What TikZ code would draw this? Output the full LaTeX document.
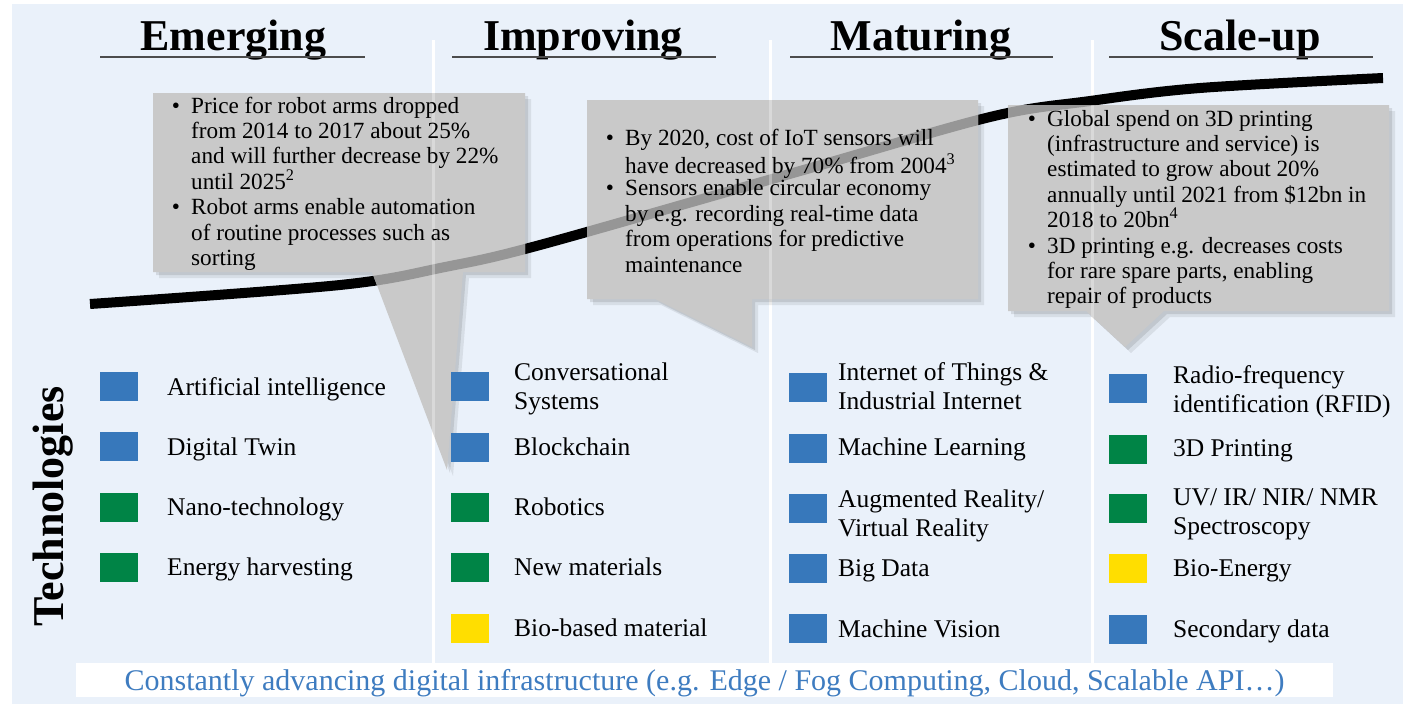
\documentclass[tikz,border=0pt]{standalone}
\usepackage{fontspec}
\setmainfont{Liberation Serif}
\definecolor{bgblue}{RGB}{234,241,250}
\definecolor{tblue}{RGB}{55,120,187}
\definecolor{tgreen}{RGB}{0,132,70}
\definecolor{tyellow}{RGB}{255,222,0}
\definecolor{boxgray}{RGB}{201,201,201}
\definecolor{curvegray}{RGB}{150,150,150}
\definecolor{linkblue}{RGB}{62,124,192}
\begin{document}
\begin{tikzpicture}[x=1pt,y=-1pt,
  title/.style={font=\fontsize{44}{50}\selectfont\bfseries, anchor=base, inner sep=0},
  uline/.style={line width=2pt, draw=black!70},
  divider/.style={draw=white, line width=3pt},
  sq/.style={minimum width=38pt, minimum height=29pt, inner sep=0, anchor=north west},
  item/.style={font=\fontsize{25.5}{29}\selectfont, anchor=north west, inner sep=0, align=left},
  ctext/.style={font=\fontsize{23.2}{25.4}\selectfont, anchor=north west, inner sep=0, align=left},
  bul/.style={font=\fontsize{23.2}{25.4}\selectfont, anchor=base, inner sep=0},
  curve/.style={line width=10pt},
  boxshape/.style={fill=boxgray}
]
\def\calloutA{(153,93) -- (525,93) -- (525,272) -- (463,272) -- (447,470) -- (372,272) -- (153,272) -- cycle}
\def\calloutB{(587,100) -- (978,100) -- (978,299) -- (752,299) -- (752,347) -- (655,299) -- (587,299) -- cycle}
\def\calloutC{(1008,105) -- (1389,105) -- (1389,311) -- (1164,311) -- (1125,347) -- (1086,311) -- (1008,311) -- cycle}
\def\curvepath{plot[smooth,tension=0.55] coordinates {(90,304) (340,285) (445,267) (540,245) (800,171) (990,117) (1090,101) (1200,88) (1383,78)}}
\def\dividers{(433,40) -- (433,663) (770,40) -- (770,663) (1092,40) -- (1092,663)}

% background
\fill[white] (0,0) rectangle (1403,704);
\useasboundingbox (0,0) rectangle (1403,704);
\fill[bgblue] (12,4) rectangle (1403,704);

% dividers and curve
\draw[divider] \dividers;
\draw[curve] \curvepath;

% callouts: shadows and boxes
\foreach \c in {\calloutA,\calloutB,\calloutC}{
  \fill[black,opacity=0.08,xshift=6pt,yshift=-6pt] \c;
  \fill[black,opacity=0.10,xshift=3pt,yshift=-3pt] \c;
  \fill[boxshape] \c;
  \begin{scope}
    \clip \c;
    \draw[curve,draw=curvegray] \curvepath;
    \draw[divider,draw=white,opacity=0.3] \dividers;
  \end{scope}
}

% callout texts
\node[bul] (b1a) at (176,113) {•};
\node[ctext] (c1a) at (191,95.2) {\strut Price for robot arms dropped\\from 2014 to 2017 about 25\%\\and will further decrease by 22\%\\until 2025\textsuperscript{2}};
\node[bul] (b1b) at (176,214.6) {•};
\node[ctext] (c1b) at (191,196.8) {\strut Robot arms enable automation\\of routine processes such as\\sorting};

\node[bul] (b2a) at (610,145) {•};
\node[ctext] (c2a) at (625,127.2) {\strut By 2020, cost of IoT sensors will\\have decreased by 70\% from 2004\textsuperscript{3}};
\node[bul] (b2b) at (610,195.8) {•};
\node[ctext] (c2b) at (625,178) {\strut Sensors enable circular economy\\by e.g. recording real-time data\\from operations for predictive\\maintenance};

\node[bul] (b3a) at (1032,126) {•};
\node[ctext] (c3a) at (1047,108.2) {\strut Global spend on 3D printing\\(infrastructure and service) is\\estimated to grow about 20\%\\annually until 2021 from \$12bn in\\2018 to 20bn\textsuperscript{4}};
\node[bul] (b3b) at (1032,253) {•};
\node[ctext] (c3b) at (1047,235.2) {\strut 3D printing e.g. decreases costs\\for rare spare parts, enabling\\repair of products};

% titles
\node[title] (h1) at (233.5,50) {Emerging};
\node[title] (h2) at (583,50) {Improving};
\node[title] (h3) at (921,50) {Maturing};
\node[title] (h4) at (1240,50) {Scale-up};
\draw[uline] (100,57) -- (365,57);
\draw[uline] (452,57) -- (716,57);
\draw[uline] (790,57) -- (1053,57);
\draw[uline] (1109,57) -- (1373,57);

% Technologies label
\node[font=\fontsize{44}{50}\selectfont\bfseries, rotate=90, anchor=base, inner sep=0] (tech) at (63,506.5) {Technologies};

% column 1
\node[sq,fill=tblue] (s11) at (100,372) {};
\node[sq,fill=tblue] (s12) at (100,432) {};
\node[sq,fill=tgreen] (s13) at (100,493) {};
\node[sq,fill=tgreen] (s14) at (100,553) {};
\node[item] (t11) at (167,374.7) {\strut Artificial intelligence};
\node[item] (t12) at (167,434.7) {\strut Digital Twin};
\node[item] (t13) at (167,494.7) {\strut Nano-technology};
\node[item] (t14) at (167,554.7) {\strut Energy harvesting};

% column 2
\node[sq,fill=tblue] (s21) at (451,372) {};
\node[sq,fill=tblue] (s22) at (451,433) {};
\node[sq,fill=tgreen] (s23) at (451,493) {};
\node[sq,fill=tgreen] (s24) at (451,553) {};
\node[sq,fill=tyellow] (s25) at (451,614) {};
\node[item] (t21) at (514,359.7) {\strut Conversational\\Systems};
\node[item] (t22) at (514,434.7) {\strut Blockchain};
\node[item] (t23) at (514,494.7) {\strut Robotics};
\node[item] (t24) at (514,554.7) {\strut New materials};
\node[item] (t25) at (514,615.7) {\strut Bio-based material};

% column 3
\node[sq,fill=tblue] (s31) at (789,373) {};
\node[sq,fill=tblue] (s32) at (789,434) {};
\node[sq,fill=tblue] (s33) at (789,494) {};
\node[sq,fill=tblue] (s34) at (789,554) {};
\node[sq,fill=tblue] (s35) at (789,614) {};
\node[item] (t31) at (838,359.7) {\strut Internet of Things \&\\Industrial Internet};
\node[item] (t32) at (838,434.7) {\strut Machine Learning};
\node[item] (t33) at (838,486.7) {\strut Augmented Reality/\\Virtual Reality};
\node[item] (t34) at (838,555.7) {\strut Big Data};
\node[item] (t35) at (838,616.7) {\strut Machine Vision};

% column 4
\node[sq,fill=tblue] (s41) at (1109,374) {};
\node[sq,fill=tgreen] (s42) at (1109,435) {};
\node[sq,fill=tgreen] (s43) at (1109,494) {};
\node[sq,fill=tyellow] (s44) at (1109,554) {};
\node[sq,fill=tblue] (s45) at (1109,615) {};
\node[item] (t41) at (1173,362.7) {\strut Radio-frequency\\identification (RFID)};
\node[item] (t42) at (1173,435.7) {\strut 3D Printing};
\node[item] (t43) at (1173,484.7) {\strut UV/ IR/ NIR/ NMR\\Spectroscopy};
\node[item] (t44) at (1173,555.7) {\strut Bio-Energy};
\node[item] (t45) at (1173,616.7) {\strut Secondary data};

% bottom bar
\fill[white] (76,663) rectangle (1333,697);
\node[font=\fontsize{30}{34}\selectfont, text=linkblue, anchor=base, inner sep=0] (infra) at (704.5,690) {Constantly advancing digital infrastructure (e.g. Edge / Fog Computing, Cloud, Scalable API…)};
\end{tikzpicture}
\end{document}
